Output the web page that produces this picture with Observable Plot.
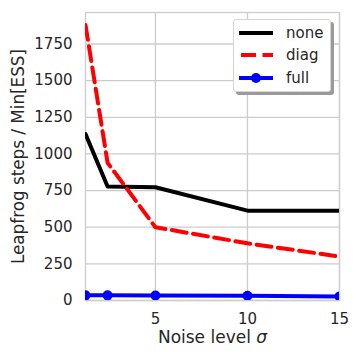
<!DOCTYPE html>
<html>
<head>
<meta charset="utf-8">
<script src="https://cdn.jsdelivr.net/npm/d3@7"></script>
<script src="https://cdn.jsdelivr.net/npm/@observablehq/plot@0.6"></script>
<style>
  html, body { margin: 0; padding: 0; background: white; }
  #wrap { position: relative; width: 360px; height: 360px; font-family: "DejaVu Sans", sans-serif; }
  #legend { position: absolute; left: 233px; top: 19px; width: 98px; height: 73px; background: white;
    border: 1px solid #d5d5d5; border-radius: 3px; box-shadow: 3px 3px 0 #9a9a9a; box-sizing: border-box; }
  .row { position: absolute; left: 0; height: 20px; display: flex; align-items: center; }
  .row svg { margin-left: 4px; }
  .row span { margin-left: 12px; font-size: 15px; color: #262626; }
</style>
</head>
<body>
<div id="wrap"></div>
<script>
const sigma = [1.2, 2.4, 5, 10, 15];
const noneVals = [1135, 778, 773, 613, 613];
const diagVals = [1880, 940, 500, 390, 300];
const fullVals = [35, 35, 34, 33, 28];
const xTicks = [5, 10, 15];
const yTicks = [0, 250, 500, 750, 1000, 1250, 1500, 1750];
const seriesNames = ["none", "diag", "full"];
const seriesColors = ["black", "red", "blue"];

const toRows = (vals, name) => sigma.map((s, i) => ({sigma: s, value: vals[i], series: name}));
const noneData = toRows(noneVals, "none");
const diagData = toRows(diagVals, "diag");
const fullData = toRows(fullVals, "full");

const chart = Plot.plot({
  width: 360,
  height: 360,
  marginLeft: 85,
  marginRight: 21,
  marginTop: 12,
  marginBottom: 60,
  style: {fontFamily: "DejaVu Sans, sans-serif", fontSize: "15px", color: "#262626", background: "white"},
  x: {domain: [1.2, 15]},
  y: {domain: [0, 1965]},
  marks: [
    Plot.gridX(xTicks, {stroke: "#cccccc", strokeOpacity: 1, strokeWidth: 1.3}),
    Plot.gridY(yTicks, {stroke: "#cccccc", strokeOpacity: 1, strokeWidth: 1.3}),
    Plot.frame({stroke: "#cccccc", strokeWidth: 1.3}),
    Plot.axisX(xTicks, {tickSize: 0, tickPadding: 13, fontSize: 15, label: null, tickFormat: d3.format("d")}),
    Plot.axisY(yTicks, {tickSize: 0, tickPadding: 13, fontSize: 15, label: null, tickFormat: d3.format("d")}),
    Plot.line(noneData, {x: "sigma", y: "value", stroke: seriesColors[0], strokeWidth: 4, clip: true}),
    Plot.line(diagData, {x: "sigma", y: "value", stroke: seriesColors[1], strokeWidth: 4, strokeDasharray: "15,6.5", clip: true}),
    Plot.line(fullData, {x: "sigma", y: "value", stroke: seriesColors[2], strokeWidth: 4, clip: true}),
    Plot.dot(fullData, {x: "sigma", y: "value", fill: seriesColors[2], r: 5, clip: true}),
    Plot.text(["Leapfrog steps / Min[ESS]"], {frameAnchor: "left", dx: -67, rotate: -90, fontSize: 16.8, fill: "#262626", textAnchor: "middle", lineAnchor: "middle"}),
    Plot.text(["Noise level σ"], {frameAnchor: "bottom", dy: 37, fontSize: 17, fill: "#262626", textAnchor: "middle", lineAnchor: "middle", className: "xlabel"})
  ]
});

// italic sigma
d3.select(chart).selectAll("text").each(function() {
  const t = d3.select(this);
  if (t.text() === "Noise level σ") {
    t.text("Noise level ");
    t.append("tspan").attr("font-style", "italic").text("σ");
  }
});

const wrap = document.getElementById("wrap");
wrap.appendChild(chart);

// legend
const legend = document.createElement("div");
legend.id = "legend";
const rowTops = [3, 25, 48];
seriesNames.forEach((name, i) => {
  const row = document.createElement("div");
  row.className = "row";
  row.style.top = rowTops[i] + "px";
  const dash = name === "diag" ? 'stroke-dasharray="15,6.5" stroke-dashoffset="-2"' : "";
  const dot = name === "full" ? `<circle cx="18" cy="10" r="5" fill="${seriesColors[i]}"/>` : "";
  row.innerHTML = `<svg width="36" height="20"><line x1="1" x2="35" y1="10" y2="10" stroke="${seriesColors[i]}" stroke-width="4" ${dash}/>${dot}</svg><span>${name}</span>`;
  legend.appendChild(row);
});
wrap.appendChild(legend);
</script>
</body>
</html>
